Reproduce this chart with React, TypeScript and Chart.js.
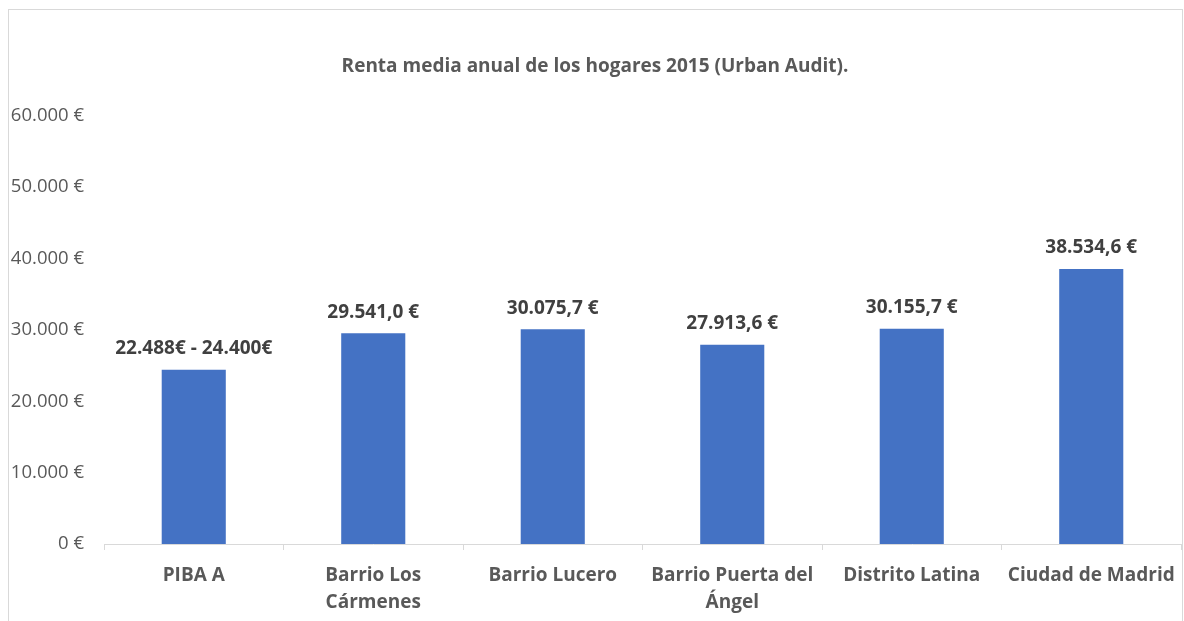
import React, { useEffect, useRef } from "react";
import { Chart, registerables } from "chart.js";

Chart.register(...registerables);

const categories: (string | string[])[] = [
  "PIBA A",
  ["Barrio Los", "Cármenes"],
  "Barrio Lucero",
  ["Barrio Puerta del", "Ángel"],
  "Distrito Latina",
  "Ciudad de Madrid",
];
const values: number[] = [24400, 29541.0, 30075.7, 27913.6, 30155.7, 38534.6];
const valueLabels: string[] = [
  "22.488€ - 24.400€",
  "29.541,0 €",
  "30.075,7 €",
  "27.913,6 €",
  "30.155,7 €",
  "38.534,6 €",
];
const yTicks: number[] = [0, 10000, 20000, 30000, 40000, 50000, 60000];
const title = "Renta media anual de los hogares 2015 (Urban Audit).";

const FONT = "'Open Sans', 'Noto Sans', sans-serif";

function fmtThousands(v: number): string {
  const s = Math.round(v).toString();
  return s.replace(/\B(?=(\d{3})+(?!\d))/g, ".") + " €";
}

const dataLabelPlugin = {
  id: "dataLabels",
  afterDatasetsDraw(chart: any) {
    const ctx = chart.ctx;
    const meta = chart.getDatasetMeta(0);
    ctx.save();
    ctx.font = `bold 19px ${FONT}`;
    ctx.fillStyle = "#404040";
    ctx.textAlign = "center";
    ctx.textBaseline = "middle";
    meta.data.forEach((bar: any, i: number) => {
      ctx.fillText(valueLabels[i], bar.x, bar.y - 21);
    });
    ctx.restore();
  },
};

export default function App() {
  const ref = useRef<HTMLCanvasElement>(null);
  useEffect(() => {
    if (!ref.current) return;
    const chart = new Chart(ref.current, {
      type: "bar",
      data: {
        labels: categories,
        datasets: [
          {
            data: values,
            backgroundColor: "#4472C4",
            borderWidth: 0,
            categoryPercentage: 1,
            barPercentage: 0.357,
          },
        ],
      },
      options: {
        animation: false,
        responsive: false,
        maintainAspectRatio: false,
        layout: { padding: { left: 0, right: 1, top: 0, bottom: 0 } },
        plugins: {
          legend: { display: false },
          tooltip: { enabled: false },
          title: {
            display: true,
            text: title,
            color: "#595959",
            font: { family: FONT, size: 19, weight: "bold", lineHeight: 1.2 },
            padding: { top: 45, bottom: 38 },
          },
        },
        scales: {
          x: {
            grid: {
              display: true,
              drawOnChartArea: false,
              drawTicks: true,
              tickLength: 6,
              color: "#d9d9d9",
              offset: true,
            },
            border: { display: true, color: "#d9d9d9" },
            ticks: {
              color: "#595959",
              font: { family: FONT, size: 19, weight: "bold", lineHeight: 1.42 },
              padding: 12,
              autoSkip: false,
              maxRotation: 0,
              minRotation: 0,
            },
            afterFit: (s: any) => {
              s.height = 104;
              s.paddingLeft = 0;
              s.paddingRight = 0;
            },
          },
          y: {
            min: 0,
            max: 60000,
            afterBuildTicks: (s: any) => {
              s.ticks = yTicks.map((v) => ({ value: v }));
            },
            grid: { display: false },
            border: { display: false },
            ticks: {
              color: "#595959",
              font: { family: FONT, size: 18.5 },
              padding: 12,
              callback: (v: any) => fmtThousands(Number(v)),
            },
            afterFit: (s: any) => {
              s.width = 95;
            },
          },
        },
      },
      plugins: [dataLabelPlugin],
    });
    return () => chart.destroy();
  }, []);

  return (
    <div
      style={{
        position: "fixed",
        left: 0,
        top: 0,
        width: 1184,
        height: 621,
        overflow: "hidden",
        background: "#fff",
      }}
    >
      <div
        style={{
          position: "absolute",
          left: 8,
          top: 9,
          width: 1175,
          height: 640,
          border: "1px solid #d9d9d9",
          boxSizing: "border-box",
          background: "#fff",
        }}
      >
        <canvas
          ref={ref}
          width={1173}
          height={638}
          style={{ position: "absolute", left: 0, top: 0, width: 1173, height: 638 }}
        />
      </div>
    </div>
  );
}
